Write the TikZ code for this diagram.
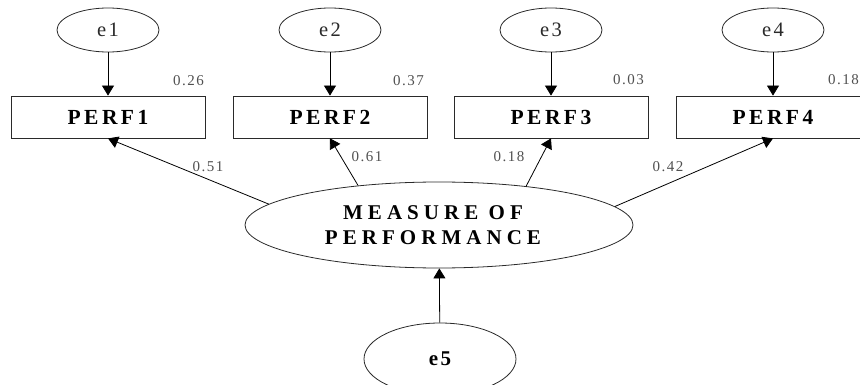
\documentclass[tikz,border=0pt]{standalone}
\usepackage{fontspec}
\setmainfont{Liberation Serif}
\newfontfamily\errfont[LetterSpace=12]{Liberation Serif}
\newfontfamily\boxfont[LetterSpace=16]{Liberation Serif}
\newfontfamily\latentfont[LetterSpace=24]{Liberation Serif}
\newfontfamily\coeffont[LetterSpace=10]{Liberation Serif}
\usetikzlibrary{shapes.geometric,arrows.meta}

\definecolor{inkgray}{HTML}{2A2A2A}
\definecolor{coefgray}{HTML}{505050}

\begin{document}
\begin{tikzpicture}[x=1pt,y=-1pt,
  err/.style={ellipse,draw=inkgray,line width=0.8pt,minimum width=102pt,minimum height=44pt,inner sep=0pt,
    text=inkgray,font={\errfont\fontsize{20.5}{20.5}\selectfont}},
  obs/.style={rectangle,draw=inkgray,line width=0.8pt,minimum width=194pt,minimum height=42pt,inner sep=0pt,
    text=black,font={\boxfont\bfseries\fontsize{21.5}{21.5}\selectfont}},
  latent/.style={ellipse,draw=inkgray,line width=0.8pt,minimum width=388pt,minimum height=86pt,inner sep=0pt},
  latentlabel/.style={text=black,align=center,font={\latentfont\bfseries\fontsize{21}{25}\selectfont}},
  dist/.style={ellipse,draw=inkgray,line width=0.8pt,minimum width=152pt,minimum height=72pt,inner sep=0pt,
    text=black,font={\errfont\bfseries\fontsize{21}{21}\selectfont}},
  coef/.style={text=coefgray,inner sep=0pt,font={\coeffont\fontsize{15}{15}\selectfont}},
  arrowpath/.style={draw=black,line width=0.8pt,-{Triangle[width=12pt,length=10pt]}}
]
\useasboundingbox (0,0) rectangle (860,385);
\clip (0,0) rectangle (860,385);

% error terms of the indicators
\node[err] (e1) at (108,30) {e1};
\node[err] (e2) at (330,30) {e2};
\node[err] (e3) at (551,30) {e3};
\node[err] (e4) at (773,30) {e4};

% observed indicators
\node[obs] (p1) at (108,117) {PERF1};
\node[obs] (p2) at (330,117) {PERF2};
\node[obs] (p3) at (551,117) {PERF3};
\node[obs] (p4) at (773,117) {PERF4};

% latent construct and its disturbance
\node[latent] (m) at (439,225) {};
\node[latentlabel] (mlabel) at (433,225) {MEASURE OF\\PERFORMANCE};
\node[dist] (e5) at (440,359) {e5};

% error paths
\draw[arrowpath] (e1) -- (p1);
\draw[arrowpath] (e2) -- (p2);
\draw[arrowpath] (e3) -- (p3);
\draw[arrowpath] (e4) -- (p4);

% loadings
\draw[arrowpath] (m.173) -- (p1.south);
\draw[arrowpath] (m.154.6) -- (p2.south);
\draw[arrowpath] (m.24.6) -- (p3.south);
\draw[arrowpath] (m.6.8) -- (p4.south);

% disturbance path
\draw[arrowpath] (e5) -- (m);

% squared multiple correlations
\node[coef,anchor=east] (r1) at (204,81) {0.26};
\node[coef,anchor=east] (r2) at (424,81) {0.37};
\node[coef,anchor=east] (r3) at (644,80) {0.03};
\node[coef,anchor=west] (r4) at (828,80) {0.18};

% standardized loadings
\node[coef] (l1) at (208,167) {0.51};
\node[coef] (l2) at (367,157) {0.61};
\node[coef] (l3) at (509,157) {0.18};
\node[coef] (l4) at (668,167) {0.42};
\end{tikzpicture}
\end{document}
